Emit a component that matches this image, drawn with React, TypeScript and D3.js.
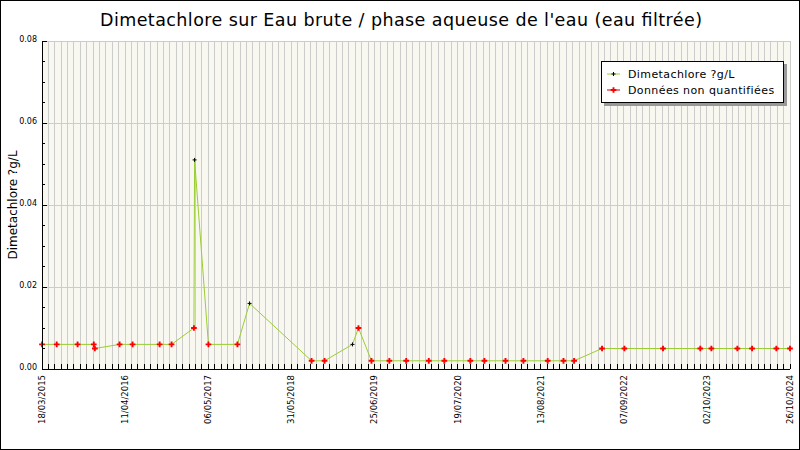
import React from "react";
import * as d3 from "d3";

// sampling dates
const sampleDates = [
  "2015-03-18", "2015-05-26", "2015-09-01", "2015-11-16", "2015-11-21",
  "2016-03-16", "2016-05-16", "2016-09-20", "2016-11-15", "2017-02-28",
  "2017-03-03", "2017-05-07", "2017-09-20", "2017-11-16", "2018-09-03",
  "2018-11-03", "2019-03-14", "2019-04-11", "2019-06-11", "2019-09-03",
  "2019-11-21", "2020-03-06", "2020-05-18", "2020-09-17", "2020-11-22",
  "2021-03-01", "2021-05-24", "2021-09-15", "2021-11-28", "2022-01-17",
  "2022-05-28", "2022-09-10", "2023-03-10", "2023-09-01", "2023-10-23",
  "2024-02-22", "2024-05-01", "2024-08-23", "2024-10-26",
];

const concentrations = [
  0.006, 0.006, 0.006, 0.006, 0.005,
  0.006, 0.006, 0.006, 0.006, 0.01,
  0.051, 0.006, 0.006, 0.016, 0.002,
  0.002, 0.006, 0.01, 0.002, 0.002,
  0.002, 0.002, 0.002, 0.002, 0.002,
  0.002, 0.002, 0.002, 0.002, 0.002,
  0.005, 0.005, 0.005, 0.005, 0.005,
  0.005, 0.005, 0.005, 0.005,
];

// 1 = quantified value, 0 = "données non quantifiées"
const quantified = [
  0, 0, 0, 0, 0,
  0, 0, 0, 0, 0,
  1, 0, 0, 1, 0,
  0, 1, 0, 0, 0,
  0, 0, 0, 0, 0,
  0, 0, 0, 0, 0,
  0, 0, 0, 0, 0,
  0, 0, 0, 0,
];

const yTicks = [0, 0.02, 0.04, 0.06, 0.08];
const title = "Dimetachlore sur Eau brute / phase aqueuse de l'eau (eau filtrée)";
const yLabel = "Dimetachlore ?g/L";
const legendLabels = ["Dimetachlore ?g/L", "Données non quantifiées"];

const W = 800;
const H = 450;
const margin = { top: 41, right: 10, bottom: 81, left: 42 };
const font = "DejaVu Sans, sans-serif";

const App: React.FC = () => {
  const parse = d3.timeParse("%Y-%m-%d");
  const points = sampleDates.map((d, i) => ({
    date: parse(d) as Date,
    value: concentrations[i],
    q: quantified[i],
  }));

  const x = d3
    .scaleTime()
    .domain(d3.extent(points, (p) => p.date) as [Date, Date])
    .range([margin.left, W - margin.right]);

  const y = d3
    .scaleLinear()
    .domain([0, 0.08])
    .range([H - margin.bottom, margin.top]);

  const [start, end] = x.domain();
  // minor ticks every 30 days, labels every 390 days
  const minorTicks = d3
    .range(0, 200)
    .map((i) => d3.timeDay.offset(start, i * 30))
    .filter((d) => d <= end);
  const labelTicks = d3
    .range(0, 20)
    .map((i) => d3.timeDay.offset(start, i * 390))
    .filter((d) => d <= end);
  const yMinor = d3.range(0, 0.0801, 0.005);

  const line = d3
    .line<(typeof points)[number]>()
    .x((p) => x(p.date))
    .y((p) => y(p.value));

  const redMark = d3.symbol(d3.symbolCross, 18)()!;
  const fmt = d3.timeFormat("%d/%m/%Y");
  const x0 = margin.left;
  const y0 = H - margin.bottom;

  return (
    <div style={{ position: "fixed", left: 0, top: 0 }}>
      <svg width={W} height={H} style={{ display: "block", background: "#fff" }}>
        <rect x={0.5} y={0.5} width={W - 1} height={H - 1} fill="#fff" stroke="#000" />

        {/* plot area */}
        <rect
          x={x0}
          y={margin.top}
          width={W - margin.right - x0}
          height={y0 - margin.top}
          fill="#f8f8f0"
        />
        <g stroke="#cccccc" strokeWidth={1} shapeRendering="crispEdges">
          {minorTicks.map((d, i) => (
            <line key={i} x1={x(d)} x2={x(d)} y1={margin.top} y2={y0} />
          ))}
          {yTicks.map((t) => (
            <line key={t} x1={x0} x2={W - margin.right} y1={y(t)} y2={y(t)} />
          ))}
        </g>

        {/* data */}
        <path d={line(points)!} fill="none" stroke="#9acd32" strokeWidth={1} />
        {points.map((p, i) =>
          p.q ? (
            <path
              key={i}
              transform={`translate(${x(p.date)},${y(p.value)})`}
              d="M-2,0H2M0,-2V2"
              stroke="#000"
              strokeWidth={1}
            />
          ) : (
            <path
              key={i}
              transform={`translate(${x(p.date)},${y(p.value)})`}
              d={redMark}
              fill="#ff0000"
            />
          )
        )}

        {/* axes */}
        <g stroke="#000" strokeWidth={1} shapeRendering="crispEdges">
          <line x1={x0} x2={x0} y1={margin.top} y2={y0} />
          <line x1={x0} x2={W - margin.right} y1={y0} y2={y0} />
          {yMinor.map((t, i) => (
            <line key={i} x1={x0} x2={x0 + (i % 4 === 0 ? 5 : 3)} y1={y(t)} y2={y(t)} />
          ))}
          {minorTicks.map((d, i) => (
            <line key={i} x1={x(d)} x2={x(d)} y1={y0} y2={y0 - 5} />
          ))}
        </g>

        <g fontFamily={font} fontSize={8} fill="#000">
          {yTicks.map((t) => (
            <text key={t} x={x0 - 5} y={y(t)} textAnchor="end" dy="0.1em">
              {t.toFixed(2)}
            </text>
          ))}
          {labelTicks.map((d, i) => (
            <text
              key={i}
              transform={`translate(${x(d) + 3},${y0 + 6}) rotate(-90)`}
              textAnchor="end"
              fontSize={8.5}
            >
              {fmt(d)}
            </text>
          ))}
        </g>

        <text
          transform={`translate(17,${(margin.top + y0) / 2}) rotate(-90)`}
          textAnchor="middle"
          fontFamily={font}
          fontSize={12}
        >
          {yLabel}
        </text>

        <text
          x={100}
          y={26}
          fontFamily={font}
          fontSize={17.5}
          textLength={602}
          lengthAdjust="spacing"
        >
          {title}
        </text>

        {/* legend */}
        <g fontFamily={font} fontSize={11} letterSpacing={0.4}>
          <rect x={604} y={64} width={183} height={42} fill="#999" />
          <rect x={601.5} y={61.5} width={182} height={41} fill="#fff" stroke="#000" />
          <line x1={607} x2={620} y1={74} y2={74} stroke="#9acd32" />
          <path d="M-2,0H2M0,-2V2" transform="translate(613.5,74)" stroke="#000" />
          <line x1={607} x2={620} y1={90} y2={90} stroke="#cc0000" />
          <path d={redMark} transform="translate(613.5,90)" fill="#ff0000" />
          <text x={628} y={74} dy="0.35em">
            {legendLabels[0]}
          </text>
          <text x={628} y={90} dy="0.35em">
            {legendLabels[1]}
          </text>
        </g>
      </svg>
    </div>
  );
};

export default App;
